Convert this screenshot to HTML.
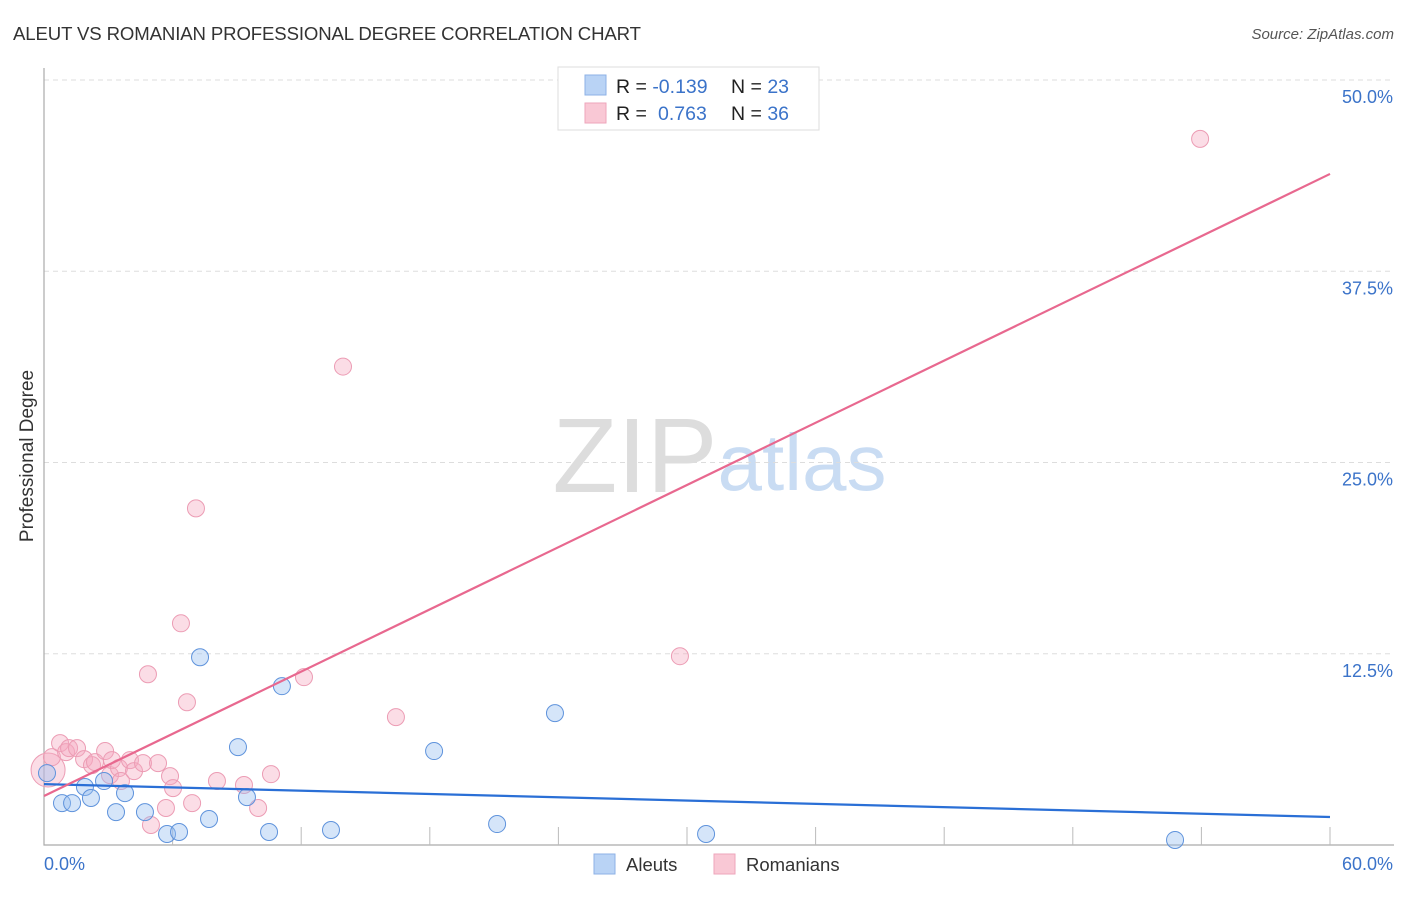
<!DOCTYPE html>
<html><head><meta charset="utf-8"><style>
body{margin:0;background:#fff;font-family:"Liberation Sans",sans-serif}
svg text{font-family:"Liberation Sans",sans-serif}
</style></head><body>
<svg width="1406" height="892" xmlns="http://www.w3.org/2000/svg">
<text x="13" y="40" font-size="18.6" fill="#333" textLength="628">ALEUT VS ROMANIAN PROFESSIONAL DEGREE CORRELATION CHART</text>
<text x="1394" y="39" font-size="15" fill="#555" font-style="italic" text-anchor="end">Source: ZipAtlas.com</text>
<text x="635" y="492" font-size="106" fill="#ddd" font-family="Liberation Serif" text-anchor="middle">ZIP</text>
<text x="802" y="490" font-size="80" fill="#c9dcf3" text-anchor="middle">atlas</text>
<text transform="translate(33,456) rotate(-90)" font-size="19" fill="#333" text-anchor="middle">Professional Degree</text>
<g id="grid"></g><g id="axes"></g><g id="pts"></g><g id="lines"></g>
<g>
<rect x="558" y="67" width="261" height="63" fill="#fff" stroke="#ddd"/>
<rect x="585" y="75" width="21" height="20" fill="#b9d3f5" stroke="#8db2e6"/>
<rect x="585" y="103" width="21" height="20" fill="#f9c8d5" stroke="#eea6bb"/>
<text x="616" y="93" font-size="19.5" fill="#222">R = <tspan fill="#3b73c9">-0.139</tspan><tspan x="731">N = </tspan><tspan fill="#3b73c9">23</tspan></text>
<text x="616" y="120" font-size="19.5" fill="#222">R = <tspan x="658" fill="#3b73c9">0.763</tspan><tspan x="731">N = </tspan><tspan fill="#3b73c9">36</tspan></text>
</g>
<g>
<rect x="594" y="854" width="21" height="20" fill="#b9d3f5" stroke="#8db2e6"/>
<text x="626" y="871" font-size="18.5" fill="#333">Aleuts</text>
<rect x="714" y="854" width="21" height="20" fill="#f9c8d5" stroke="#eea6bb"/>
<text x="746" y="871" font-size="18.5" fill="#333">Romanians</text>
</g>
</svg>
<script>
const yTicks=[12.5,25,37.5,50];
const yTickLabels=["12.5%","25.0%","37.5%","50.0%"];
const xTicks=[6,12,18,24,30,36,42,48,54,60];
const aleutX=[0.14,0.84,1.31,1.91,2.19,2.8,3.36,3.78,4.71,5.74,6.3,7.28,7.7,9.05,9.47,10.5,11.1,13.39,18.2,21.14,23.84,30.89,52.77];
const aleutY=[4.7,2.74,2.74,3.79,3.07,4.18,2.15,3.39,2.15,0.72,0.85,12.27,1.7,6.4,3.13,0.85,10.38,0.98,6.14,1.37,8.62,0.72,0.33];
const romX=[0.19,0.37,0.75,1.03,1.17,1.54,1.87,2.24,2.38,2.85,3.08,3.17,3.5,3.59,4.01,4.2,4.62,4.85,4.99,5.32,5.69,5.88,6.02,6.39,6.67,6.91,7.09,8.07,9.33,9.99,10.59,12.13,13.95,16.42,29.67,53.94];
const romY=[4.9,5.74,6.66,6.07,6.33,6.33,5.61,5.22,5.42,6.14,4.57,5.55,5.03,4.18,5.55,4.83,5.35,11.16,1.31,5.35,2.42,4.5,3.72,14.49,9.33,2.74,22.0,4.18,3.92,2.42,4.63,10.97,31.27,8.36,12.34,46.15];
const aleutTrend=[3.98,1.83];
const romTrend=[3.2,43.86];
const trendX=[0,60];
const NS='http://www.w3.org/2000/svg';
const X=v=>44+v*(1286/60), Y=v=>845-v*(765/50);
function mk(t,a,p){const e=document.createElementNS(NS,t);for(const k in a)e.setAttribute(k,a[k]);document.getElementById(p).appendChild(e);return e;}
yTicks.forEach((t,i)=>{
 const g=mk('line',{x1:44,x2:1394,y1:Y(t),y2:Y(t),stroke:'#ddd','stroke-dasharray':'5,4'},'grid');
 
 
 const l=mk('text',{x:1393,y:Y(t)+23,'font-size':18,fill:'#3b73c9','text-anchor':'end'},'grid');
 l.textContent=yTickLabels[i];
 
 
});
const ax=mk('path',{d:'M44 68V845H1394',fill:'none',stroke:'#aaa','stroke-width':1.2},'axes');


xTicks.forEach(t=>{
 const k=mk('line',{x1:X(t),x2:X(t),y1:827,y2:845,stroke:'#bbb'},'axes');
 
 
});
const x0=mk('text',{x:44,y:870,'font-size':18,fill:'#3b73c9'},'axes');x0.textContent='0.0%';


const x1=mk('text',{x:1393,y:870,'font-size':18,fill:'#3b73c9','text-anchor':'end'},'axes');x1.textContent='60.0%';


romX.forEach((v,i)=>{
 const c=mk('circle',{cx:X(v),cy:Y(romY[i]),r:i==0?17:8.5,fill:'rgba(246,170,192,0.4)',stroke:'#ec9cb4','stroke-width':1},'pts');
 
 
});
aleutX.forEach((v,i)=>{
 const c=mk('circle',{cx:X(v),cy:Y(aleutY[i]),r:8.5,fill:'rgba(150,190,240,0.4)',stroke:'#5f93dc','stroke-width':1},'pts');
 
 
});
const lb=mk('line',{x1:X(trendX[0]),x2:X(trendX[1]),y1:Y(aleutTrend[0]),y2:Y(aleutTrend[1]),stroke:'#2a6fd6','stroke-width':2.2},'lines');


const lp=mk('line',{x1:X(trendX[0]),x2:X(trendX[1]),y1:Y(romTrend[0]),y2:Y(romTrend[1]),stroke:'#e8688f','stroke-width':2.2},'lines');


</script>
</body></html>
